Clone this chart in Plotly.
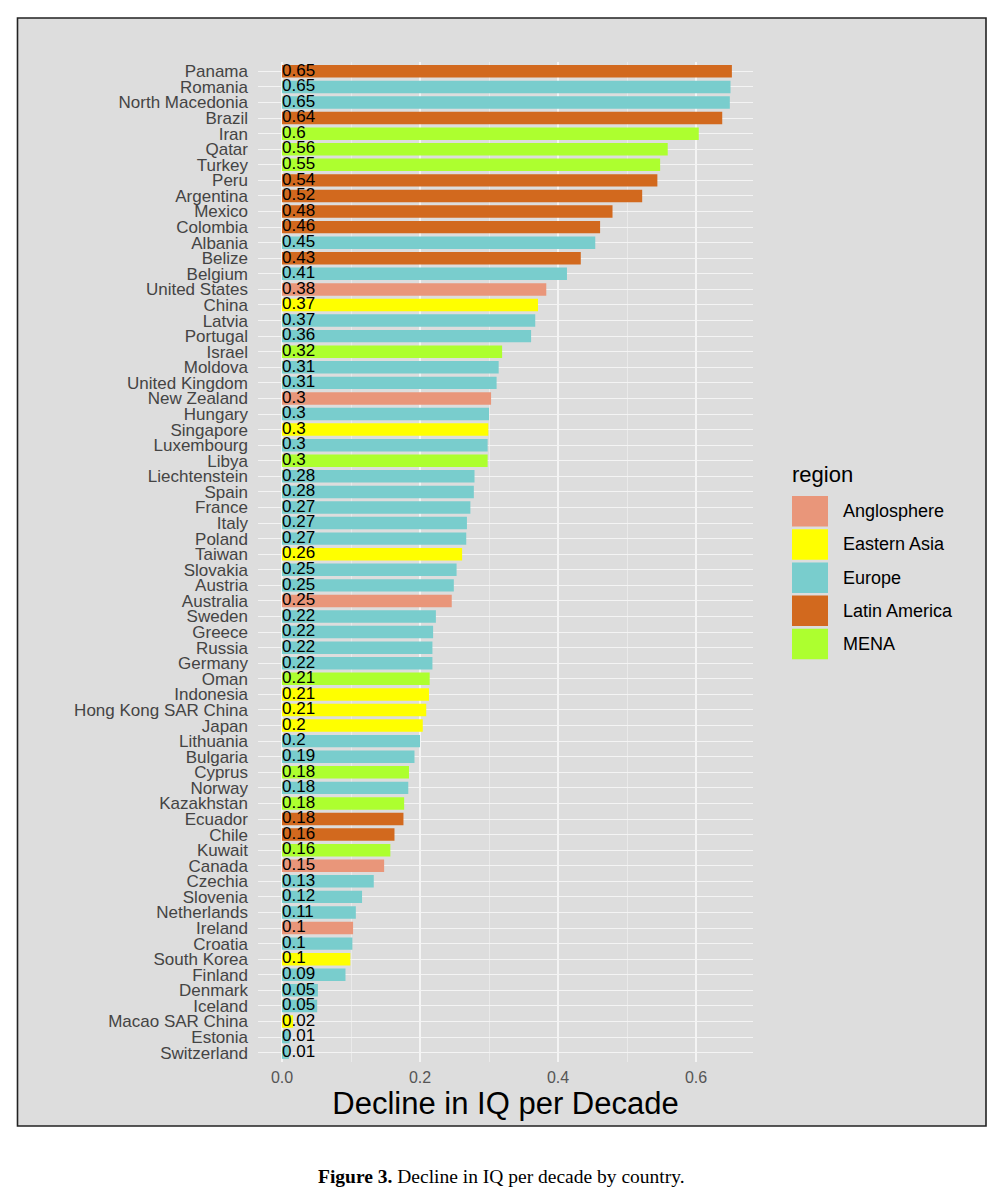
import plotly.graph_objects as go

countries = ["Panama", "Romania", "North Macedonia", "Brazil", "Iran", "Qatar", "Turkey", "Peru",
             "Argentina", "Mexico", "Colombia", "Albania", "Belize", "Belgium", "United States",
             "China", "Latvia", "Portugal", "Israel", "Moldova", "United Kingdom", "New Zealand",
             "Hungary", "Singapore", "Luxembourg", "Libya", "Liechtenstein", "Spain", "France",
             "Italy", "Poland", "Taiwan", "Slovakia", "Austria", "Australia", "Sweden", "Greece",
             "Russia", "Germany", "Oman", "Indonesia", "Hong Kong SAR China", "Japan", "Lithuania",
             "Bulgaria", "Cyprus", "Norway", "Kazakhstan", "Ecuador", "Chile", "Kuwait", "Canada",
             "Czechia", "Slovenia", "Netherlands", "Ireland", "Croatia", "South Korea", "Finland",
             "Denmark", "Iceland", "Macao SAR China", "Estonia", "Switzerland"]

values = [0.652, 0.650, 0.649, 0.638, 0.604, 0.559, 0.548, 0.544,
          0.522, 0.479, 0.461, 0.454, 0.433, 0.413, 0.383,
          0.371, 0.367, 0.361, 0.319, 0.314, 0.311, 0.303,
          0.300, 0.299, 0.298, 0.298, 0.279, 0.278, 0.273,
          0.268, 0.267, 0.261, 0.253, 0.249, 0.246, 0.223, 0.219,
          0.218, 0.218, 0.214, 0.213, 0.209, 0.204, 0.200,
          0.192, 0.184, 0.183, 0.177, 0.176, 0.163, 0.157, 0.148,
          0.133, 0.116, 0.107, 0.103, 0.102, 0.099, 0.092,
          0.052, 0.051, 0.016, 0.011, 0.010]

LA, EU, ME, AN, EA = "Latin America", "Europe", "MENA", "Anglosphere", "Eastern Asia"
country_region = [LA, EU, EU, LA, ME, ME, ME, LA,
                  LA, LA, LA, EU, LA, EU, AN,
                  EA, EU, EU, ME, EU, EU, AN,
                  EU, EA, EU, ME, EU, EU, EU,
                  EU, EU, EA, EU, EU, AN, EU, EU,
                  EU, EU, ME, EA, EA, EA, EU,
                  EU, ME, EU, ME, LA, LA, ME, AN,
                  EU, EU, EU, AN, EU, EA, EU,
                  EU, EU, EA, EU, EU]

region_names = ["Anglosphere", "Eastern Asia", "Europe", "Latin America", "MENA"]
region_colors = ["#E9967A", "#FFFF00", "#79CDCD", "#D2691E", "#ADFF2F"]

x_ticks = [0.0, 0.2, 0.4, 0.6]
x_minor = [0.1, 0.3, 0.5]

axis_title = "Decline in IQ per Decade"
legend_title = "region"
caption_bold = "Figure 3."
caption_text = " Decline in IQ per decade by country."

# ---------------- layout geometry ----------------
# The page body has an 8px margin, so the figure is made smaller by 16px
# and every target page pixel is shifted by OFF.
OFF = 8
W, H = 1003 - 2 * OFF, 1200 - 2 * OFF
PL, PR, PT, PB = 258 - OFF, 753 - OFF, 62 - OFF, 1062 - OFF
BG = "#DDDDDD"

def xp(px):
    return (px - OFF - PL) / (PR - PL)

def yp(py):
    return (PB - (py - OFF)) / (PB - PT)

labels = [f"{round(v, 2):g}" for v in values]
color_of = dict(zip(region_names, region_colors))

fig = go.Figure()

for reg in region_names:
    idx = [i for i, r in enumerate(country_region) if r == reg]
    fig.add_trace(go.Bar(
        x=[values[i] for i in idx],
        y=[countries[i] for i in idx],
        orientation="h",
        name=reg,
        marker=dict(color=color_of[reg], line=dict(width=0)),
        width=0.8,
        showlegend=False,
        hoverinfo="x+y",
    ))

fig.add_trace(go.Scatter(
    x=[0] * len(countries),
    y=countries,
    text=labels,
    mode="text",
    textposition="middle right",
    textfont=dict(family="Liberation Sans, Arial, sans-serif", size=17, color="black"),
    showlegend=False,
    hoverinfo="skip",
    cliponaxis=False,
))

n = len(countries)
fig.update_layout(
    width=W, height=H,
    margin=dict(l=PL, r=W - PR, t=PT, b=H - PB, pad=0),
    paper_bgcolor="white",
    plot_bgcolor="rgba(0,0,0,0)",
    barmode="overlay",
    showlegend=False,
    font=dict(family="Liberation Sans, Arial, sans-serif", color="#444444"),
    xaxis=dict(
        range=[-0.0348, 0.6826],
        tickvals=x_ticks,
        tickformat=".1f",
        tickfont=dict(size=16, color="#555555"),
        showgrid=True, gridcolor="#F4F4F4", gridwidth=1.6,
        zeroline=False, showline=False,
        ticks="", ticklabelstandoff=4,
        minor=dict(tickvals=x_minor, showgrid=True, gridcolor="#EAEAEA", gridwidth=0.8),
        title=dict(text=axis_title, font=dict(size=31, color="black"), standoff=0),
        automargin=False,
    ),
    yaxis=dict(
        type="category",
        categoryorder="array",
        categoryarray=countries,
        tickmode="array",
        tickvals=countries,
        ticktext=countries,
        range=[n - 1 + 0.6, -0.6],
        tickfont=dict(size=17, color="#444444"),
        showgrid=True, gridcolor="#F4F4F4", gridwidth=1.4,
        zeroline=False, showline=False,
        ticks="", ticklabelstandoff=9,
        automargin=False,
    ),
)

shapes = []
# figure panel background with border
shapes.append(dict(type="rect", xref="paper", yref="paper", layer="below",
                   x0=xp(17.5), x1=xp(986), y0=yp(1126), y1=yp(18),
                   fillcolor=BG, line=dict(color="#222222", width=1.6)))

annotations = []
# manual legend (large ggplot-style keys)
key_x0, key_x1 = 792, 828
key_top0, key_step, key_h = 496, 33.2, 30.5
for k, (reg, col) in enumerate(zip(region_names, region_colors)):
    top = key_top0 + k * key_step
    shapes.append(dict(type="rect", xref="paper", yref="paper", layer="above",
                       x0=xp(key_x0), x1=xp(key_x1), y0=yp(top + key_h), y1=yp(top),
                       fillcolor=col, line=dict(width=0)))
    annotations.append(dict(xref="paper", yref="paper", x=xp(841), y=yp(top + key_h / 2),
                            xanchor="left", yanchor="middle", showarrow=False,
                            text=reg, font=dict(size=18, color="black")))
annotations.append(dict(xref="paper", yref="paper", x=xp(790), y=yp(474),
                        xanchor="left", yanchor="middle", showarrow=False,
                        text=legend_title, font=dict(size=22, color="black")))

# caption
annotations.append(dict(xref="paper", yref="paper", x=xp(501.5), y=yp(1176),
                        xanchor="center", yanchor="middle", showarrow=False,
                        text=f"<b>{caption_bold}</b>{caption_text}",
                        font=dict(family="Liberation Serif, Times New Roman, serif", size=19.5, color="black")))

fig.update_layout(shapes=shapes, annotations=annotations)

fig.write_html("out.html")
